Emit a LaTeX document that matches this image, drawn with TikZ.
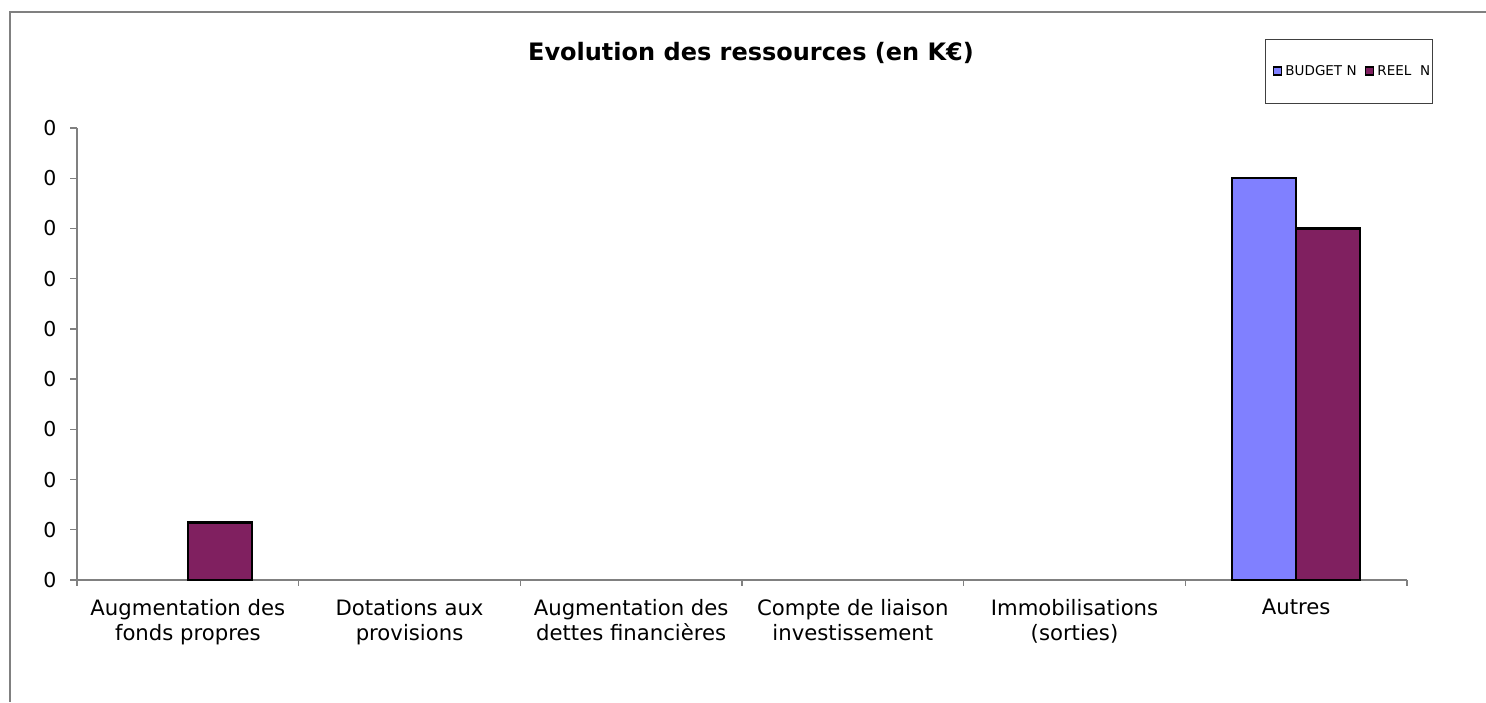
\documentclass[tikz,border=0pt]{standalone}
\usepackage{fontspec}
\setmainfont{DejaVu Sans}
\usetikzlibrary{positioning}
\definecolor{budget}{RGB}{128,128,255}
\definecolor{reel}{RGB}{128,32,96}
\definecolor{axisgray}{RGB}{128,128,128}
\tikzset{
  axisline/.style={axisgray,line width=1.3pt},
  bar/.style={draw=black,line width=2.5pt},
  ticklabel/.style={inner sep=0pt,font=\fontsize{20.5}{25}\selectfont},
  catlabel/.style={align=center,anchor=north,inner sep=0pt,font=\fontsize{21.2}{25}\selectfont},
  keybox/.style={draw=black,line width=1.5pt,minimum size=8pt,inner sep=0pt},
  keytext/.style={inner sep=0pt,font=\fontsize{13.5}{16}\selectfont}
}

\begin{document}
\begin{tikzpicture}[x=1pt,y=-1pt]
    \useasboundingbox (0,0) rectangle (1486,702);
    \draw[axisgray,line width=1.2pt] (1486,12) -- (10,12) -- (10,702);

    % title and legend
    \node[font=\fontsize{24}{28}\selectfont\bfseries] (title) at (751,53) {Evolution des ressources (en K€)};
    \node[draw=black!75,line width=1pt,minimum width=167pt,minimum height=64pt] (legend) at (1348.5,71) {};
    \node[keybox,fill=budget] (kb) at (1277.5,71) {};
    \node[keytext,right=3pt of kb] (tb) {BUDGET N};
    \node[keybox,fill=reel] (kr) at (1369.5,71) {};
    \node[keytext,right=3pt of kr] (tr) {REEL\ \ N};

    % axes
    \draw[axisline] (77,128) -- (77,580) -- (1407,580);
    \foreach \i in {0,...,9} {
      \draw[axisline] (70,{580-\i*50.22}) -- (77,{580-\i*50.22});
      \node[ticklabel] (y\i) at (50,{580-\i*50.22}) {0};
    }
    \foreach \k in {0,...,6}
      \draw[axisline] ({77+\k*221.67},580) -- ({77+\k*221.67},586);

    % bars
    \foreach \x/\v/\c in {188/1.15/reel,1232/8/budget,1296/7/reel}
      \draw[bar,fill=\c] (\x,580) rectangle ++(64,{-\v*50.22});

    \foreach \k/\t in {1/{Augmentation des\\fonds propres},2/{Dotations aux\\provisions},
       3/{Augmentation des\\dettes financières},4/{Compte de liaison\\investissement},
       5/{Immobilisations\\(sorties)},6/{Autres}}
        \node[catlabel] (cat\k) at ({77+(\k-0.5)*221.67},599) {\t};
\end{tikzpicture}
\end{document}
